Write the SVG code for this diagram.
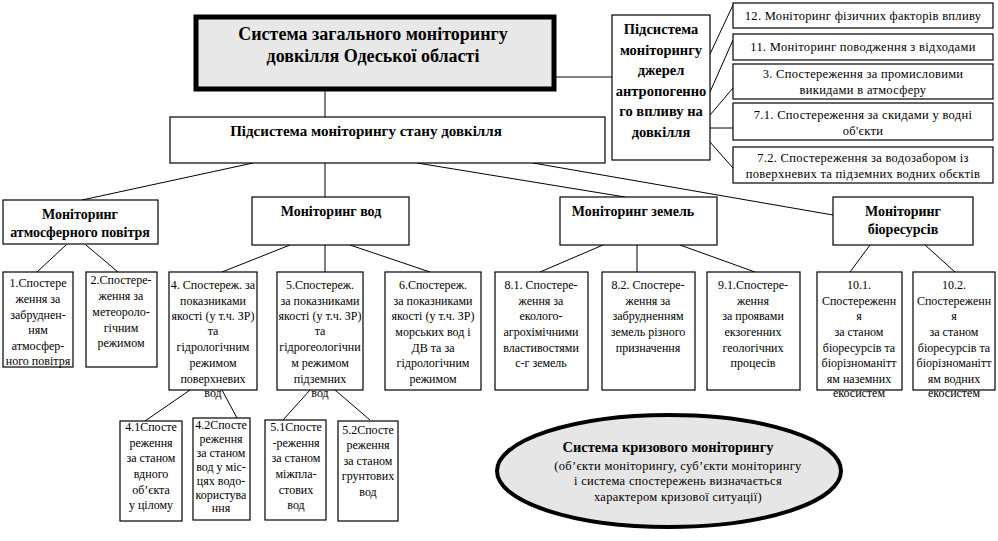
<svg xmlns="http://www.w3.org/2000/svg" width="998" height="541" viewBox="0 0 998 541">
<style>
.bx{fill:#fff;stroke:#000;stroke-width:1.2}
.t{font-family:"Liberation Serif","Times New Roman",serif;font-size:12px;text-anchor:middle;fill:#000}
.r{font-family:"Liberation Serif","Times New Roman",serif;font-size:12.5px;letter-spacing:0.3px;text-anchor:middle;fill:#000}
.b{font-family:"Liberation Serif","Times New Roman",serif;font-weight:bold;text-anchor:middle;fill:#000}
.c line{stroke:#000;stroke-width:1}
</style>
<rect width="998" height="541" fill="#fff"/>
<g class="c" id="connectors">
<line x1="556" y1="77" x2="612" y2="77"/>
<line x1="325" y1="91" x2="325" y2="117"/>
<line x1="710" y1="54" x2="733" y2="5"/>
<line x1="710" y1="92" x2="733" y2="40"/>
<line x1="710" y1="115" x2="733" y2="88"/>
<line x1="710" y1="128" x2="733" y2="128"/>
<line x1="710" y1="142" x2="733" y2="168"/>
<line x1="253" y1="163" x2="82" y2="200"/>
<line x1="325" y1="163" x2="325" y2="197"/>
<line x1="417" y1="163" x2="625" y2="197"/>
<line x1="533" y1="163" x2="833" y2="215"/>
<line x1="66" y1="245" x2="37" y2="272"/>
<line x1="86" y1="245" x2="118" y2="272"/>
<line x1="290" y1="245" x2="222" y2="272"/>
<line x1="325" y1="245" x2="325" y2="272"/>
<line x1="350" y1="245" x2="430" y2="272"/>
<line x1="603" y1="245" x2="540" y2="272"/>
<line x1="637" y1="245" x2="637" y2="272"/>
<line x1="680" y1="245" x2="755" y2="272"/>
<line x1="870" y1="245" x2="850" y2="272"/>
<line x1="925" y1="245" x2="955" y2="272"/>
<line x1="190" y1="390" x2="145" y2="421"/>
<line x1="222" y1="390" x2="237" y2="418"/>
<line x1="310" y1="390" x2="283" y2="420"/>
<line x1="335" y1="390" x2="370" y2="420"/>
</g>
<g id="n-top">
<rect x="196" y="17" width="358" height="72" fill="#e8e8e8" stroke="#000" stroke-width="5"/>
<text class="b" font-size="18" x="373" y="40">Система загального моніторингу</text>
<text class="b" font-size="18" x="373" y="62">довкілля Одеської області</text>
</g>
<g id="n-anthro">
<rect class="bx" x="612" y="15" width="98" height="145"/>
<text class="b" font-size="14.5" x="661" y="34">Підсистема</text>
<text class="b" font-size="14.5" x="661" y="54.5">моніторингу</text>
<text class="b" font-size="14.5" x="661" y="75">джерел</text>
<text class="b" font-size="14.5" x="661" y="95.5">антропогенно</text>
<text class="b" font-size="14.5" x="661" y="116">го впливу на</text>
<text class="b" font-size="14.5" x="661" y="136.5">довкілля</text>
</g>
<g id="n-12">
<rect class="bx" x="733" y="3" width="260" height="25"/>
<text class="r" x="863" y="20">12. Моніторинг фізичних факторів впливу</text>
</g>
<g id="n-11">
<rect class="bx" x="733" y="34" width="260" height="26"/>
<text class="r" x="863" y="51">11. Моніторинг поводження з відходами</text>
</g>
<g id="n-3">
<rect class="bx" x="733" y="64" width="260" height="35"/>
<text class="r" x="863" y="78">3. Спостереження за промисловими</text>
<text class="r" x="863" y="94">викидами в атмосферу</text>
</g>
<g id="n-71">
<rect class="bx" x="733" y="103" width="260" height="37"/>
<text class="r" x="863" y="119">7.1. Спостереження за скидами  у водні</text>
<text class="r" x="863" y="135">об'єкти</text>
</g>
<g id="n-72">
<rect class="bx" x="733" y="147" width="260" height="36"/>
<text class="r" x="863" y="162">7.2. Спостереження за водозабором із</text>
<text class="r" x="863" y="178">поверхневих та підземних водних обєктів</text>
</g>
<g id="n-state">
<rect class="bx" x="170" y="117" width="435" height="46"/>
<text class="b" font-size="15" x="366" y="136">Підсистема моніторингу стану довкілля</text>
</g>
<g id="n-atm">
<rect class="bx" x="3" y="200" width="155" height="44"/>
<text class="b" font-size="14" x="80" y="219">Моніторинг</text>
<text class="b" font-size="14" x="80" y="237">атмосферного повітря</text>
</g>
<g id="n-water">
<rect class="bx" x="252" y="197" width="157" height="48"/>
<text class="b" font-size="14" x="331" y="216">Моніторинг вод</text>
</g>
<g id="n-land">
<rect class="bx" x="560" y="197" width="157" height="48"/>
<text class="b" font-size="14" x="633" y="216">Моніторинг земель</text>
</g>
<g id="n-bio">
<rect class="bx" x="833" y="197" width="140" height="48"/>
<text class="b" font-size="14" x="903" y="216">Моніторинг</text>
<text class="b" font-size="14" x="903" y="234">біоресурсів</text>
</g>
<g id="n-1">
<rect class="bx" x="3" y="272" width="70" height="95"/>
<text class="t" x="38" y="287">1.Спостере</text>
<text class="t" x="38" y="303">ження  за</text>
<text class="t" x="38" y="319">забруднен-</text>
<text class="t" x="38" y="334">ням</text>
<text class="t" x="38" y="350">атмосфер-</text>
<text class="t" x="38" y="365">ного повітря</text>
</g>
<g id="n-2">
<rect class="bx" x="86" y="272" width="71" height="95"/>
<text class="t" x="121" y="284">2.Спостере-</text>
<text class="t" x="121" y="300">ження за</text>
<text class="t" x="121" y="316">метеороло-</text>
<text class="t" x="121" y="332">гічним</text>
<text class="t" x="121" y="347">режимом</text>
</g>
<g id="n-4">
<rect class="bx" x="169" y="272" width="88" height="118"/>
<text class="t" x="213" y="289">4. Спостереж. за</text>
<text class="t" x="213" y="305">показниками</text>
<text class="t" x="213" y="320">якості (у т.ч. ЗР)</text>
<text class="t" x="213" y="335">та</text>
<text class="t" x="213" y="351">гідрологічним</text>
<text class="t" x="213" y="367">режимом</text>
<text class="t" x="213" y="383">поверхневих</text>
<text class="t" x="213" y="397">вод</text>
</g>
<g id="n-5">
<rect class="bx" x="277" y="272" width="86" height="118"/>
<text class="t" x="320" y="289">5.Спостереж.</text>
<text class="t" x="320" y="305">за  показниками</text>
<text class="t" x="320" y="320">якості (у т.ч. ЗР)</text>
<text class="t" x="320" y="335">та</text>
<text class="t" x="320" y="351">гідрогеологічни</text>
<text class="t" x="320" y="367">м режимом</text>
<text class="t" x="320" y="383">підземних</text>
<text class="t" x="320" y="397">вод</text>
</g>
<g id="n-6">
<rect class="bx" x="385" y="272" width="96" height="118"/>
<text class="t" x="433" y="289">6.Спостереж.</text>
<text class="t" x="433" y="305">за  показниками</text>
<text class="t" x="433" y="320">якості (у т.ч. ЗР)</text>
<text class="t" x="433" y="336">морських вод і</text>
<text class="t" x="433" y="352">ДВ та за</text>
<text class="t" x="433" y="367">гідрологічним</text>
<text class="t" x="433" y="383">режимом</text>
</g>
<g id="n-81">
<rect class="bx" x="495" y="272" width="93" height="118"/>
<text class="t" x="541" y="289">8.1. Спостере-</text>
<text class="t" x="541" y="305">ження за</text>
<text class="t" x="541" y="320">еколого-</text>
<text class="t" x="541" y="336">агрохімічними</text>
<text class="t" x="541" y="352">властивостями</text>
<text class="t" x="541" y="367">с-г земель</text>
</g>
<g id="n-82">
<rect class="bx" x="602" y="272" width="93" height="118"/>
<text class="t" x="648" y="289">8.2. Спостере-</text>
<text class="t" x="648" y="305">ження за</text>
<text class="t" x="648" y="320">забрудненням</text>
<text class="t" x="648" y="336">земель різного</text>
<text class="t" x="648" y="352">призначення</text>
</g>
<g id="n-91">
<rect class="bx" x="707" y="272" width="93" height="118"/>
<text class="t" x="753" y="289">9.1.Спостере-</text>
<text class="t" x="753" y="305">ження</text>
<text class="t" x="753" y="320"> за проявами</text>
<text class="t" x="753" y="336">екзогенних</text>
<text class="t" x="753" y="352">геологічних</text>
<text class="t" x="753" y="367">процесів</text>
</g>
<g id="n-101">
<rect class="bx" x="817" y="272" width="85" height="118"/>
<text class="t" x="859" y="289">10.1.</text>
<text class="t" x="859" y="305">Спостереженн</text>
<text class="t" x="859" y="320">я</text>
<text class="t" x="859" y="336">за станом</text>
<text class="t" x="859" y="352">біоресурсів та</text>
<text class="t" x="859" y="367">біорізноманітт</text>
<text class="t" x="859" y="383">ям наземних</text>
<text class="t" x="859" y="397">екосистем</text>
</g>
<g id="n-102">
<rect class="bx" x="913" y="272" width="82" height="118"/>
<text class="t" x="954" y="289">10.2.</text>
<text class="t" x="954" y="305">Спостереженн</text>
<text class="t" x="954" y="320">я</text>
<text class="t" x="954" y="336">за станом</text>
<text class="t" x="954" y="352">біоресурсів та</text>
<text class="t" x="954" y="367">біорізноманітт</text>
<text class="t" x="954" y="383">ям водних</text>
<text class="t" x="954" y="397">екосистем</text>
</g>
<g id="n-41">
<rect class="bx" x="120" y="421" width="62" height="100"/>
<text class="t" x="151" y="431">4.1Спосте</text>
<text class="t" x="151" y="447">реження</text>
<text class="t" x="151" y="462">за  станом</text>
<text class="t" x="151" y="478">вдного</text>
<text class="t" x="151" y="494">об’єкта</text>
<text class="t" x="151" y="509">у цілому</text>
</g>
<g id="n-42">
<rect class="bx" x="193" y="418" width="57" height="102"/>
<text class="t" x="221" y="429">4.2Спосте</text>
<text class="t" x="221" y="443">реження</text>
<text class="t" x="221" y="457">за станом</text>
<text class="t" x="221" y="471">вод у міс-</text>
<text class="t" x="221" y="485">цях водо-</text>
<text class="t" x="221" y="499">користува</text>
<text class="t" x="221" y="512">ння</text>
</g>
<g id="n-51">
<rect class="bx" x="265" y="420" width="61" height="100"/>
<text class="t" x="296" y="431">5.1Спосте</text>
<text class="t" x="296" y="447">-реження</text>
<text class="t" x="296" y="462">за станом</text>
<text class="t" x="296" y="478">міжпла-</text>
<text class="t" x="296" y="494">стових</text>
<text class="t" x="296" y="509">вод</text>
</g>
<g id="n-52">
<rect class="bx" x="338" y="421" width="60" height="100"/>
<text class="t" x="368" y="434">5.2Спосте</text>
<text class="t" x="368" y="449">реження</text>
<text class="t" x="368" y="465">за станом</text>
<text class="t" x="368" y="480">грунтових</text>
<text class="t" x="368" y="496">вод</text>
</g>
<g id="n-crisis">
<ellipse cx="669" cy="471" rx="172" ry="56" fill="#e6e6e6" stroke="#000" stroke-width="4"/>
<text class="b" font-size="14.5" x="668" y="452">Система кризового моніторингу</text>
<text class="r" x="678" y="470">(об’єкти  моніторингу, суб’єкти моніторингу</text>
<text class="r" x="678" y="485">і система спостережень визначається</text>
<text class="r" x="678" y="501">характером кризової ситуації)</text>
</g>
</svg>
